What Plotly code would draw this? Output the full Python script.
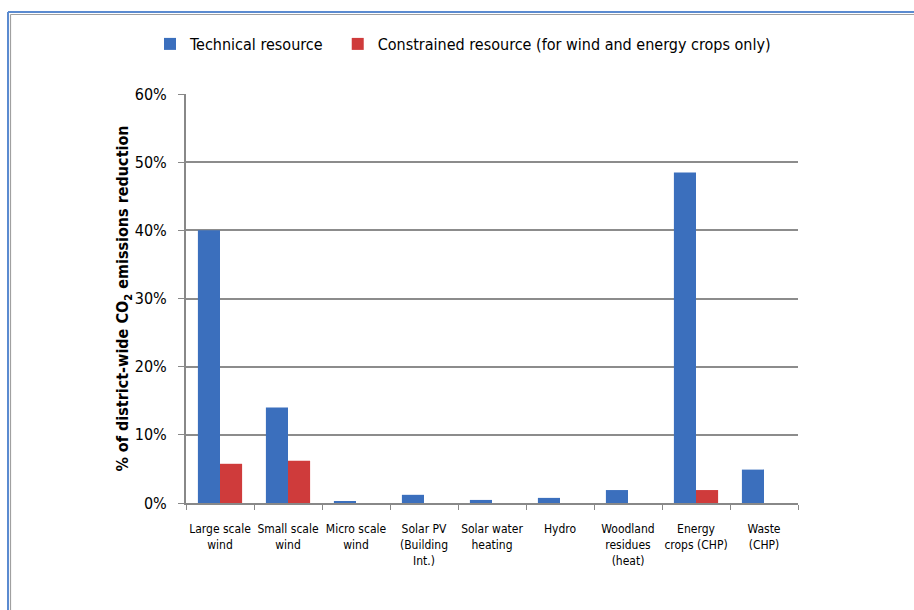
import plotly.graph_objects as go

categories = ["Large scale<br>wind", "Small scale<br>wind", "Micro scale<br>wind",
              "Solar PV<br>(Building<br>Int.)", "Solar water<br>heating", "Hydro",
              "Woodland<br>residues<br>(heat)", "Energy<br>crops (CHP)", "Waste<br>(CHP)"]
technical = [40.0, 14.0, 0.2, 1.2, 0.45, 0.75, 1.9, 48.5, 4.9]
constrained = [5.75, 6.2, 0, 0, 0, 0, 0, 1.9, 0]
y_ticks = [0, 10, 20, 30, 40, 50, 60]
series_names = ["Technical resource" + "\u00a0" * 2,
                "Constrained resource (for wind and energy crops only)"]

FONT = "DejaVu Sans Condensed, Roboto, sans-serif"

fig = go.Figure()
fig.add_bar(x=categories, y=technical, name=series_names[0],
            marker=dict(color="#3B6FBD", line=dict(width=0)))
fig.add_bar(x=categories, y=constrained, name=series_names[1],
            marker=dict(color="#CF3B3B", line=dict(width=0)))

W, H = 914, 610
L, R, T, B = 186, 798, 94, 503
pw, ph = R - L, B - T

def px(x):
    return (x - L) / pw

def py(y):
    return (B - y) / ph

shapes = [
    dict(type="line", xref="paper", yref="paper", x0=px(8), x1=px(930), y0=py(12), y1=py(12),
         line=dict(color="#5B8BD0", width=2)),
    dict(type="line", xref="paper", yref="paper", x0=px(8), x1=px(8), y0=py(12), y1=py(630),
         line=dict(color="#5B8BD0", width=2)),
    dict(type="line", xref="paper", yref="paper", x0=px(10.5), x1=px(930), y0=py(14.5), y1=py(14.5),
         line=dict(color="#A0A0A0", width=1.2)),
    dict(type="line", xref="paper", yref="paper", x0=px(10.5), x1=px(10.5), y0=py(14.5), y1=py(630),
         line=dict(color="#A0A0A0", width=1.2)),
]

fig.update_layout(
    width=W, height=H,
    margin=dict(l=L, r=W - R, t=T, b=H - B, autoexpand=False),
    paper_bgcolor="white", plot_bgcolor="white",
    barmode="group", bargap=0.35, bargroupgap=0,
    font=dict(family=FONT, color="#000000", size=12),
    showlegend=True,
    legend=dict(orientation="h", x=px(150), xanchor="left", y=py(44), yanchor="middle",
                font=dict(family=FONT, size=16), itemwidth=30, tracegroupgap=0),
    shapes=shapes,
    xaxis=dict(showline=True, linecolor="#888888", linewidth=2, ticks="outside",
               tickson="boundaries", ticklen=5, tickcolor="#888888", tickwidth=1,
               tickangle=0, tickfont=dict(family=FONT, size=12), ticklabelstandoff=14,
               showgrid=False, fixedrange=True),
    yaxis=dict(range=[0, 60], tickvals=y_ticks, ticktext=[f"{v}%" for v in y_ticks],
               showline=True, linecolor="#888888", linewidth=2, ticks="outside",
               ticklen=6, tickcolor="#888888", ticklabelstandoff=8,
               showgrid=True, gridcolor="#8C8C8C", gridwidth=1.5,
               tickfont=dict(family=FONT, size=16),
               title=dict(text="<b>% of district-wide CO<sub>2</sub> emissions reduction</b>",
                          font=dict(family=FONT, size=16), standoff=0),
               zeroline=False),
)

fig.write_html("out.html")
